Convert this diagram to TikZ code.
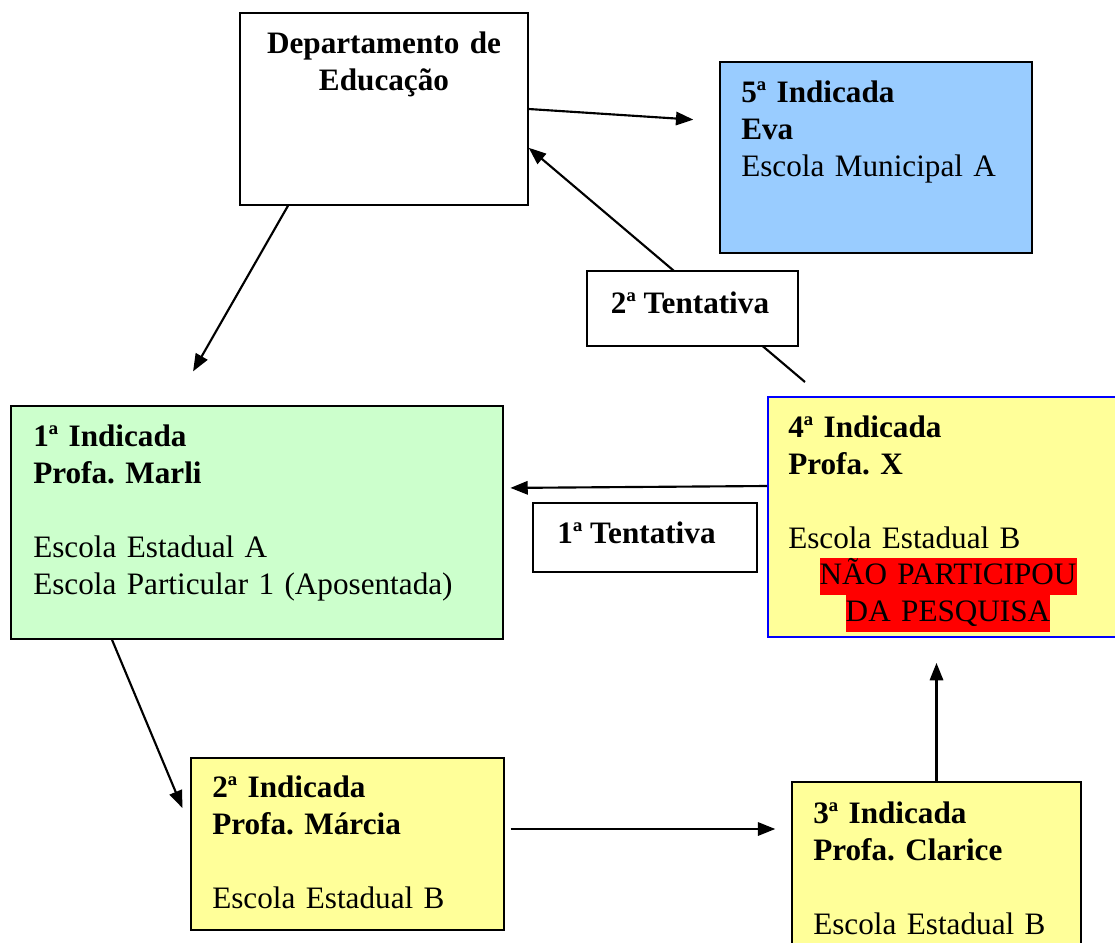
\documentclass[tikz,border=0pt]{standalone}
\usepackage{fontspec}
\setmainfont{Liberation Serif}
\usetikzlibrary{arrows.meta,fit}

\definecolor{verdeclaro}{HTML}{CCFFCC}
\definecolor{amarelo}{HTML}{FFFF99}
\definecolor{azulclaro}{HTML}{99CCFF}
\setlength{\fboxsep}{0pt}
\frenchspacing

\begin{document}
\begin{tikzpicture}[x=0.75pt,y=-0.75pt,
    every node/.style={font=\fontsize{23.4}{27.75}\selectfont},
    box/.style={draw=black,line width=1.1pt,inner sep=0pt},
    txt/.style={inner sep=0pt,text width=#1,align=left,anchor=base west},
    titulo/.style={anchor=base,inner sep=0pt,font=\fontsize{23.4}{27.75}\selectfont\bfseries},
    seta/.style={-{Triangle[length=13pt,width=10pt]},line width=1.6pt}]
       \useasboundingbox (0,0) rectangle (1115,943);

       % caixas
       \node[box,fill=white,fit={(240,13) (528,205)}] (dept) {};
       \node[box,fill=azulclaro,fit={(720,62) (1032,253)}] (eva) {};
       \node[box,fill=verdeclaro,fit={(11,406) (503,639)}] (b1) {};
       \node[box,fill=amarelo,fit={(191,758) (504,930)}] (b2) {};
       \node[box,fill=amarelo,fit={(792,782) (1081,960)}] (b3) {};
       \node[box,draw=blue,line width=1.4pt,fill=amarelo,fit={(768,397) (1128,637)}] (b4) {};

       % 2a tentativa passa por tras da caixa
       \coordinate (c4) at (805,382);
       \draw[seta] (c4) -- (dept.-15.9);

       \node[box,fill=white,fit={(587,271) (798,346)}] (tent2) {};
       \node[box,fill=white,fit={(533,503) (757,572)}] (tent1) {};

       % textos
       \node[titulo,text width=210pt,align=center] (deptTxt) at (384,53) {Departamento de\\Educação};
       \node[txt=240pt] (evaTxt) at (741,102) {\textbf{5ª Indicada}\\\textbf{Eva}\\Escola Municipal A};
       \node[txt=330pt] (b1Txt) at (33,446) {\textbf{1ª Indicada}\\\textbf{Profa. Marli}\\[27.75pt]Escola Estadual A\\Escola Particular 1 (Aposentada)};
       \node[txt=240pt] (b2Txt) at (212,797) {\textbf{2ª Indicada}\\\textbf{Profa. Márcia}\\[27.75pt]Escola Estadual B};
       \node[txt=240pt] (b3Txt) at (813,823) {\textbf{3ª Indicada}\\\textbf{Profa. Clarice}\\[27.75pt]Escola Estadual B};
       \node[txt=240pt] (b4Txt) at (788,437) {\textbf{4ª Indicada}\\\textbf{Profa. X}\\[27.75pt]Escola Estadual B};
       \node[anchor=base,inner sep=0pt,text width=240pt,align=center] (naoTxt) at (948,584)
         {\colorbox{red}{\strut NÃO PARTICIPOU}\\\colorbox{red}{\strut DA PESQUISA}};
       \node[titulo] (tent2Txt) at (690,313) {2ª Tentativa};
       \node[titulo] (tent1Txt) at (636.5,543) {1ª Tentativa};

       % setas
       \draw[seta,shorten >=19.5pt] (dept.east) -- (eva.167.5);
       \draw[seta,shorten >=29.3pt] ([xshift=-72pt]dept.south) -- ([xshift=-62.5pt]b1.north);
       \draw[seta,shorten >=5pt] ([yshift=23.25pt]b4.west) -- ([yshift=25.9pt]b1.east);
       \draw[seta,shorten >=15.3pt] ([xshift=-108.75pt]b1.south) -- ([yshift=12.9pt]b2.west);
       \draw[seta,shorten <=4.5pt,shorten >=12pt] ([yshift=11.25pt]b2.east) -- ([yshift=11.25pt]b2.east -| b3.west);
       \draw[seta,shorten >=18.75pt] (b3.north) -- (b3.north |- b4.south);
\end{tikzpicture}
\end{document}
